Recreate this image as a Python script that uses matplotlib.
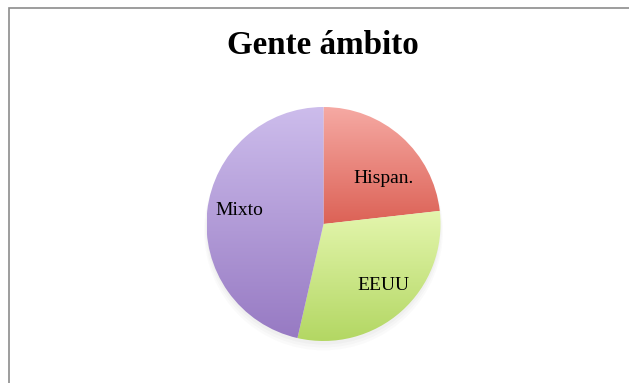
import numpy as np
import matplotlib
matplotlib.use("Agg")
import matplotlib.pyplot as plt
import matplotlib.transforms as mtransforms
from matplotlib.colors import LinearSegmentedColormap
from matplotlib.patches import Rectangle, Circle

# Data
categories = ["Hispan.", "EEUU", "Mixto"]
values = [13, 17, 26]
title = "Gente ámbito"

# Gradient (top, bottom) colours per slice
top_colors = ["#f6aaa4", "#e4f6ae", "#cdbdec"]
bottom_colors = ["#dc6256", "#b3d763", "#977ac3"]

W, H = 629, 383
fig = plt.figure(figsize=(W / 100, H / 100), dpi=100)
fig.patch.set_facecolor("white")

# Chart frame (top and left edges visible)
fig.add_artist(Rectangle((8.5 / W, -0.1), 1.2, (H - 7.5) / H + 0.1,
                         transform=fig.transFigure, fill=False,
                         edgecolor="#8c8c8c", linewidth=1.2))

fig.text(323 / W, 1 - 45 / H, title, ha="center", va="center",
         fontsize=23.8, fontweight="bold", family="Liberation Serif",
         color="black")

cx, cy, r = 323.5, 383 - 224, 117
lim = 1.1
ax = fig.add_axes([(cx - r * lim) / W, (cy - r * lim) / H,
                   2 * r * lim / W, 2 * r * lim / H])
ax.axis("off")

# soft shadow under the pie
for k, a in enumerate([0.05, 0.04, 0.03]):
    ax.add_patch(Circle((0, -0.03 - 0.015 * k), 1.0 + 0.01 * k,
                        facecolor="#7a7a7a", edgecolor="none",
                        alpha=a, zorder=0))

wedges, texts = ax.pie(values, labels=categories, startangle=90,
                       counterclock=False, radius=1.0,
                       labeldistance=0.7,
                       wedgeprops=dict(linewidth=0, edgecolor="none"),
                       textprops=dict(family="Liberation Serif",
                                      fontsize=14, color="black",
                                      ha="center", va="center"))

grad = np.linspace(0, 1, 256).reshape(-1, 1)
for w, c0, c1 in zip(wedges, top_colors, bottom_colors):
    ext = w.get_path().get_extents()
    cmap = LinearSegmentedColormap.from_list("g", [c0, c1])
    w.set_facecolor("none")
    im = ax.imshow(grad, cmap=cmap, aspect="auto",
                   extent=(ext.x0, ext.x1, ext.y0, ext.y1),
                   origin="upper", zorder=1, interpolation="bilinear")
    im.set_clip_path(w)

# nudge labels slightly (in points) for best fit inside slices
nudges = [(4, -11), (4, 0), (-2, 3)]
for t, (dx, dy) in zip(texts, nudges):
    t.set_zorder(3)
    t.set_transform(mtransforms.offset_copy(ax.transData, fig=fig,
                                            x=dx, y=dy, units="points"))

ax.set_xlim(-lim, lim)
ax.set_ylim(-lim, lim)
ax.set_aspect("equal")

fig.savefig("out.png", dpi=100, facecolor="white")
